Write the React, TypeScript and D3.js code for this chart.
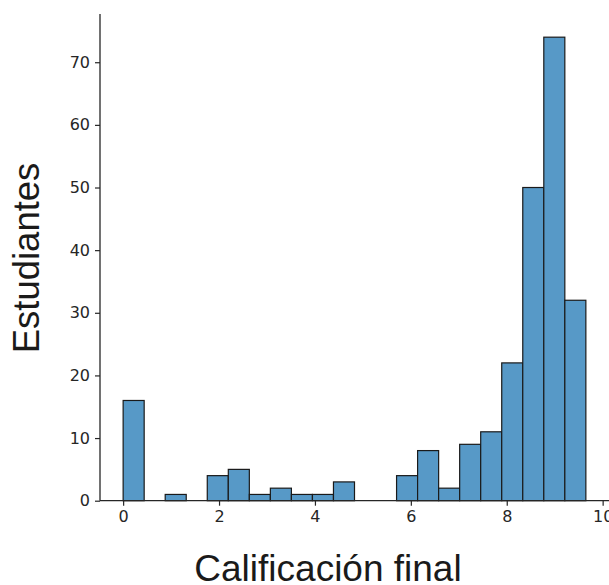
import React, { useRef, useEffect } from 'react';
import * as d3 from 'd3';

// histogram counts per bin (22 bins between min and max grade)
const counts = [16, 0, 1, 0, 4, 5, 1, 2, 1, 1, 3, 0, 0, 4, 8, 2, 9, 11, 22, 50, 74, 32];
const binMin = 0;
const binMax = 9.65;
const xTicks = [0, 2, 4, 6, 8, 10];
const yTicks = [0, 10, 20, 30, 40, 50, 60, 70];
const xLabel = 'Calificación final';
const yLabel = 'Estudiantes';

const W = 609, H = 585;

export default function App() {
    const svgRef = useRef<SVGSVGElement>(null);

    useEffect(() => {
        document.body.style.margin = '0';
        draw(svgRef.current);
    }, []);

    return <svg ref={svgRef} width={W} height={H} style={{ display: 'block' }}></svg>;
}

function draw(node: SVGSVGElement | null) {
    if (!node) return;
    const svg = d3.select(node);
    svg.selectAll('*').remove();

    const binW = (binMax - binMin) / counts.length;
    const bins = counts.map((c, i) => ({ x0: binMin + i * binW, x1: binMin + (i + 1) * binW, n: c }));

    const pad = (binMax - binMin) * 0.05;
    const x = d3.scaleLinear().domain([binMin - pad, binMax + pad]).range([100, 609]);
    const y = d3.scaleLinear().domain([0, (d3.max(counts) as number) * 1.05]).range([500.7, 14]);

    svg.append('rect').attr('width', W).attr('height', H).attr('fill', '#fff');

    svg.append('g')
        .selectAll('rect')
        .data(bins.filter(b => b.n > 0))
        .join('rect')
        .attr('x', d => x(d.x0))
        .attr('y', d => y(d.n))
        .attr('width', d => x(d.x1) - x(d.x0))
        .attr('height', d => y(0) - y(d.n))
        .attr('fill', '#5799c7')
        .attr('stroke', '#1a1a1a')
        .attr('stroke-width', 1.2);

    const xAxis = d3.axisBottom(x).tickValues(xTicks).tickSize(5).tickPadding(5).tickFormat(d3.format('d'));
    const yAxis = d3.axisLeft(y).tickValues(yTicks).tickSize(5).tickPadding(5).tickFormat(d3.format('d'));

    const gx = svg.append('g').attr('transform', `translate(0,${y(0)})`).call(xAxis);
    const gy = svg.append('g').attr('transform', `translate(${x.range()[0]},0)`).call(yAxis);

    [gx, gy].forEach(g => {
        g.select('.domain').attr('stroke', '#262626').attr('stroke-width', 1.3);
        g.selectAll('.tick line').attr('stroke', '#262626').attr('stroke-width', 1.2);
        g.selectAll('.tick text')
            .attr('fill', '#262626')
            .style('font-family', '"DejaVu Sans", sans-serif')
            .style('font-size', '16px');
    });
    gx.select('.domain').attr('d', `M${x.range()[0]},0H${x.range()[1]}`);
    gy.select('.domain').attr('d', `M0,${y.range()[0]}V${y.range()[1]}`);

    svg.append('text')
        .attr('x', 328)
        .attr('y', 581)
        .attr('text-anchor', 'middle')
        .attr('fill', '#1a1a1a')
        .style('font-family', '"Liberation Sans", Arial, sans-serif')
        .style('font-size', '37px')
        .text(xLabel);

    svg.append('text')
        .attr('transform', `translate(39,258) rotate(-90)`)
        .attr('text-anchor', 'middle')
        .attr('fill', '#1a1a1a')
        .style('font-family', '"Liberation Sans", Arial, sans-serif')
        .style('font-size', '36.5px')
        .text(yLabel);
}
